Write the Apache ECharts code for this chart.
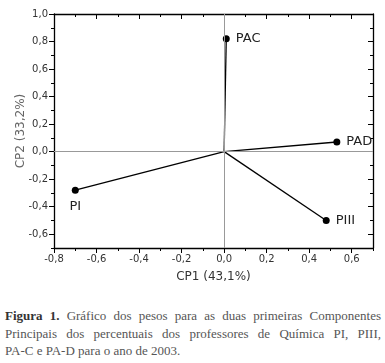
<!DOCTYPE html>
<html>
<head>
<meta charset="utf-8">
<script src="https://cdn.jsdelivr.net/npm/echarts@6/dist/echarts.min.js"></script>
<style>
  body { margin: 0; background: #fff; }
  #chart { position: absolute; left: 0; top: 0; width: 385px; height: 300px; }
  #legenda {
    position: absolute; left: 5px; top: 307px; width: 376px;
    font-family: 'Liberation Serif', serif; font-size: 13px; line-height: 17.5px;
    color: #555;
  }
  #legenda div { white-space: nowrap; }
  #legenda .j { text-align: justify; text-align-last: justify; }
  #legenda b { color: #333; }
</style>
</head>
<body>
<div id="chart"></div>
<div id="legenda">
  <div class="j"><b>Figura 1.</b> Gráfico dos pesos para as duas primeiras Componentes</div>
  <div class="j">Principais dos percentuais dos professores de Química PI, PIII,</div>
  <div>PA-C e PA-D para o ano de 2003.</div>
</div>
<script>
// pesos das variaveis
var nomes = ['PAC', 'PAD', 'PI', 'PIII'];
var cp1 = [0.01, 0.53, -0.70, 0.48];
var cp2 = [0.82, 0.07, -0.28, -0.50];
var posLabel = ['right', 'right', 'bottom', 'right'];

var xTicks = [-0.8, -0.6, -0.4, -0.2, 0.0, 0.2, 0.4, 0.6];
var yTicks = [-0.6, -0.4, -0.2, 0.0, 0.2, 0.4, 0.6, 0.8, 1.0];

function fmt(v) {
  return v.toFixed(1).replace('.', ',');
}

var myCharts = echarts.init(document.getElementById('chart'));

var corEixo = '#000';
function eixoX(pos, dentro, menor) {
  return {
    type: 'value', position: pos, min: -0.8, max: 0.7, interval: 0.1,
    axisLine: { show: !menor, onZero: false, lineStyle: { color: corEixo, width: 1.3 } },
    splitLine: { show: false },
    axisTick: menor
      ? { show: true, inside: dentro, length: 3, lineStyle: { color: corEixo } }
      : { show: true, inside: dentro, length: 5, customValues: xTicks, lineStyle: { color: corEixo } },
    axisLabel: (pos === 'bottom' && !menor)
      ? { show: true, customValues: xTicks, formatter: fmt, margin: 6, color: '#333', fontSize: 10, fontFamily: 'DejaVu Sans' }
      : { show: false }
  };
}
function eixoY(pos, dentro, menor) {
  return {
    type: 'value', position: pos, min: -0.7, max: 1.0, interval: 0.1,
    axisLine: { show: !menor, onZero: false, lineStyle: { color: corEixo, width: 1.3 } },
    splitLine: { show: false },
    axisTick: menor
      ? { show: true, inside: dentro, length: 3, lineStyle: { color: corEixo } }
      : { show: true, inside: dentro, length: 5, customValues: yTicks, lineStyle: { color: corEixo } },
    axisLabel: (pos === 'left' && !menor)
      ? { show: true, customValues: yTicks, formatter: fmt, margin: 6, color: '#333', fontSize: 10, fontFamily: 'DejaVu Sans' }
      : { show: false }
  };
}

var xAxis = [eixoX('bottom', false, false), eixoX('top', true, false), eixoX('bottom', false, true), eixoX('top', true, true)];
var yAxis = [eixoY('left', false, false), eixoY('right', true, false), eixoY('left', false, true), eixoY('right', true, true)];
xAxis[0].name = 'CP1 (43,1%)';
xAxis[0].nameLocation = 'middle';
xAxis[0].nameGap = 23;
xAxis[0].nameTextStyle = { color: '#333', fontSize: 12, fontFamily: 'DejaVu Sans' };
yAxis[0].name = 'CP2 (33,2%)';
yAxis[0].nameLocation = 'middle';
yAxis[0].nameGap = 27;
yAxis[0].nameMoveOverlap = false;
yAxis[0].nameTextStyle = { color: '#666', fontSize: 12, fontFamily: 'DejaVu Sans' };

var series = [];
// linhas de referencia em zero
series.push({
  type: 'line', data: [], silent: true,
  markLine: {
    silent: true, symbol: 'none', label: { show: false },
    lineStyle: { color: '#999', width: 1, type: 'solid' },
    data: [{ xAxis: 0 }, { yAxis: 0 }]
  }
});
nomes.forEach(function (n, i) {
  series.push({
    name: n, type: 'line',
    data: [[0, 0], [cp1[i], cp2[i]]],
    lineStyle: { color: '#000', width: 1.3 },
    itemStyle: { color: '#000' },
    symbol: 'circle', symbolSize: function (v, p) { return p.dataIndex === 1 ? 7 : 0; },
    label: {
      show: true, position: posLabel[i], distance: 6,
      color: '#222', fontSize: 13, fontFamily: 'DejaVu Sans',
      formatter: function (p) { return p.dataIndex === 1 ? n : ''; }
    },
    animation: false
  });
});

var option = {
  backgroundColor: '#ffffff',
  animation: false,
  grid: { left: 54, right: 12, top: 14, bottom: 52 },
  xAxis: xAxis,
  yAxis: yAxis,
  series: series
};
myCharts.setOption(option);
</script>
</body>
</html>
